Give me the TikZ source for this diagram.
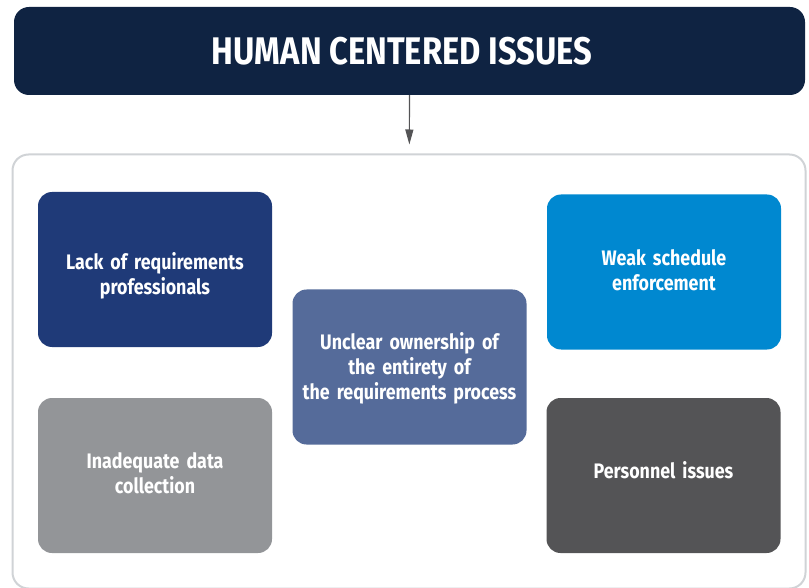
\documentclass[tikz,border=0pt]{standalone}
\usepackage{fontspec}
\setmainfont[FakeStretch=0.85]{Fira Sans}
\usepackage{xcolor}
\usetikzlibrary{arrows.meta}
\definecolor{navy}{HTML}{0F2342}
\definecolor{royal}{HTML}{1F3A78}
\definecolor{sky}{HTML}{0088D0}
\definecolor{slate}{HTML}{556B9A}
\definecolor{silver}{HTML}{939598}
\definecolor{charcoal}{HTML}{545456}
\definecolor{rim}{HTML}{D0D3D6}

\begin{document}
\begin{tikzpicture}[x=1pt, y=-1pt,
    issue/.style = {rounded corners=14pt, minimum width=234pt, minimum height=155pt, inner sep=0pt},
    tag/.style   = {inner sep=0pt, text width=225pt, align=center, text=white, font=\bfseries\fontsize{21}{25}\selectfont}]
    \useasboundingbox (0,0) rectangle (809,588);
    \node[fill=navy, rounded corners=15pt, minimum width=791pt, minimum height=88pt, text=white,
          font=\bfseries\fontsize{38.5}{42}\selectfont] (title) at (409.5,51) {HUMAN CENTERED ISSUES\hspace*{15pt}};
    \node[draw=rim, line width=2pt, rounded corners=16pt, minimum width=793pt, minimum height=434pt] (frame) at (409,371.5) {};
    \node[issue, fill=royal, label={[tag, yshift=-6pt]center:{Lack of requirements\\professionals}}] (lack) at (155,269.5) {};
    \node[issue, fill=sky, label={[tag, yshift=2pt]center:{Weak schedule\\enforcement}}] (weak) at (664,272) {};
    \node[issue, fill=slate, label={[tag, yshift=-1.5pt]center:{Unclear ownership of\\the entirety of\\the requirements process}}] (unclear) at (409.5,367) {};
    \node[issue, fill=silver, label={[tag, yshift=2pt]center:{Inadequate data\\collection}}] (data) at (155,475.5) {};
    \node[issue, fill=charcoal, label={[tag, yshift=5pt]center:{Personnel issues}}] (personnel) at (663.5,475.5) {};
    \draw[-{Triangle[width=8pt,length=15pt]}, line width=1.2pt, draw=charcoal, shorten >=9pt] (title) -- (frame);
\end{tikzpicture}
\end{document}
